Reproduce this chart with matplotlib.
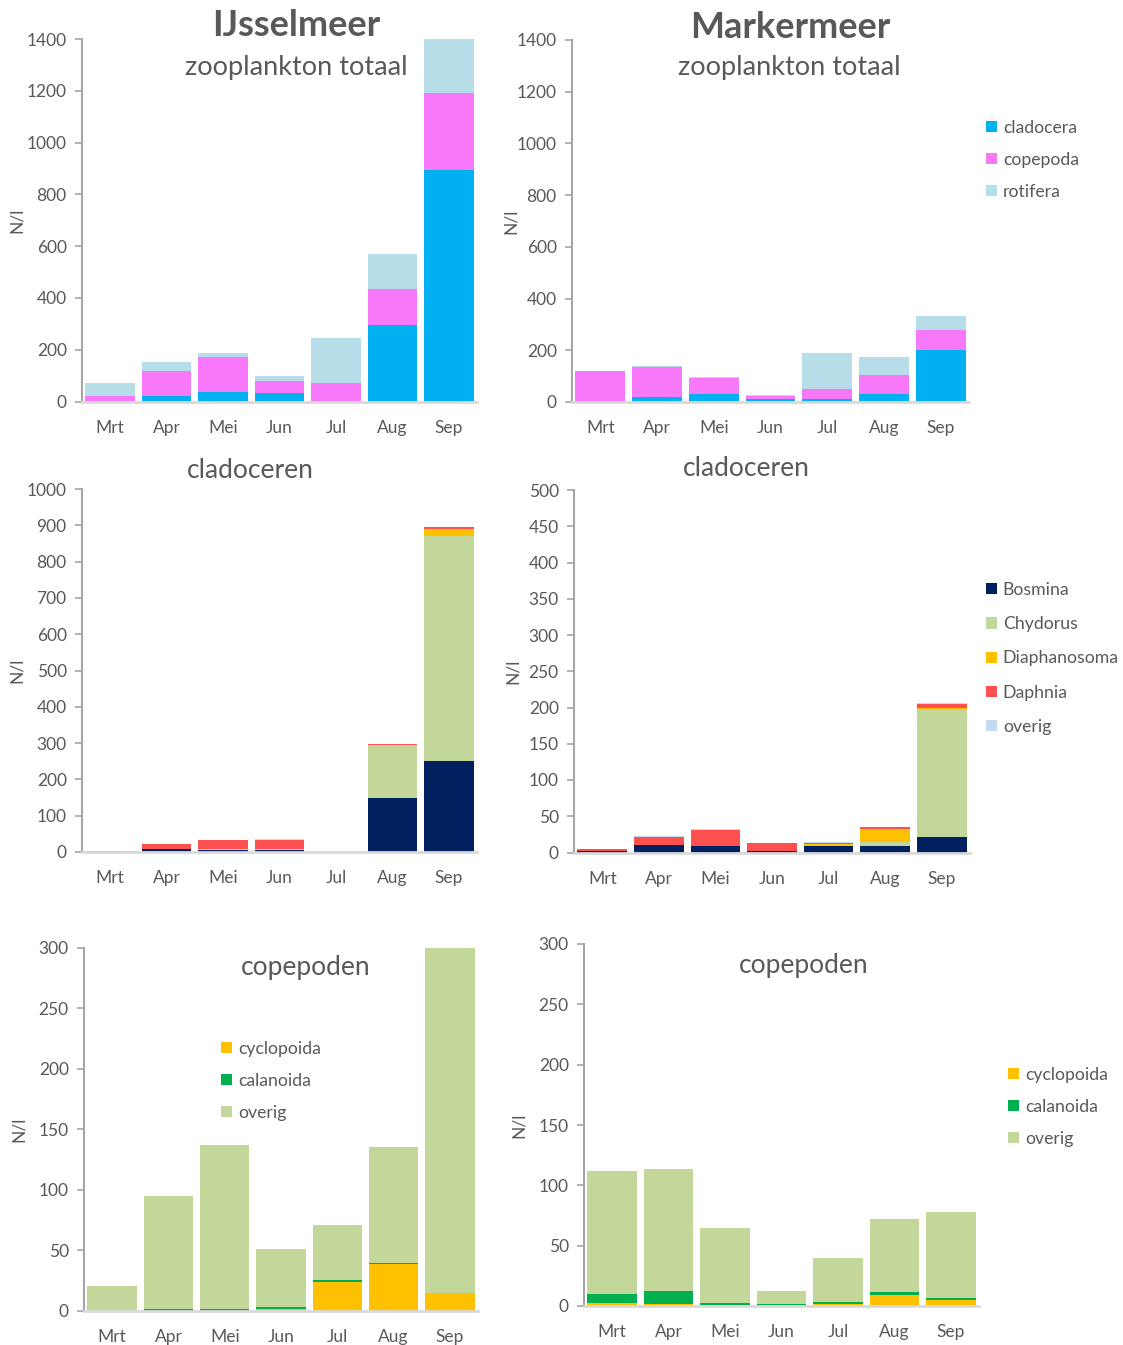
import numpy as np
import matplotlib
matplotlib.use("Agg")
import matplotlib.pyplot as plt
from matplotlib.patches import Patch

plt.rcParams['font.family'] = ['Lato', 'DejaVu Sans']

W, H = 1123, 1345
GREY = '#595959'

months = ['Mrt', 'Apr', 'Mei', 'Jun', 'Jul', 'Aug', 'Sep']

# zooplankton totaal (N/l)
ijs_cladocera = [0, 23, 35, 31, 0, 294, 893]
ijs_copepoda = [23, 93, 135, 50, 70, 139, 298]
ijs_rotifera = [50, 35, 16, 16, 177, 135, 209]
mrk_cladocera = [5, 19, 31, 12, 12, 31, 202]
mrk_copepoda = [113, 118, 63, 11, 38, 73, 78]
mrk_rotifera = [2, 3, 2, 4, 140, 70, 52]

# cladoceren
ijs_bosmina = [0, 9, 6, 6, 0, 148, 250]
ijs_chydorus = [0, 0, 2, 2, 0, 147, 621]
ijs_diaphanosoma = [0, 0, 0, 0, 0, 0, 18]
ijs_daphnia = [4, 14, 26, 26, 0, 3, 5]
ijs_clad_overig = [0, 0, 0, 2, 0, 0, 1]
mrk_bosmina = [1.5, 10, 8.5, 2, 9, 9, 21.6]
mrk_chydorus = [0, 0, 0, 0, 0, 5, 174.4]
mrk_diaphanosoma = [0, 0, 1, 0, 3, 18, 4]
mrk_daphnia = [3, 12, 21.5, 11, 1, 2.5, 4.2]
mrk_clad_overig = [1, 1, 1, 0, 1, 1, 1.4]

# copepoden
ijs_cyclopoida = [0, 0, 0, 1, 24, 38.5, 14.4]
ijs_calanoida = [0, 1.5, 1.5, 2, 1.5, 1.2, 0]
ijs_cop_overig = [20.5, 93, 135.5, 48, 45.5, 96, 285.6]
mrk_cyclopoida = [2.8, 2, 1, 0, 1.5, 9, 5]
mrk_calanoida = [7.4, 10.7, 1.8, 1.5, 1.5, 2.8, 1.6]
mrk_cop_overig = [102, 101, 61.7, 11, 36.5, 60, 71]

C_CLAD, C_COP, C_ROT = '#00B0F0', '#F779F9', '#B7DEE8'
C_BOS, C_CHY, C_DIA, C_DAP, C_OV = '#002060', '#C4D79B', '#FFC000', '#FF5050', '#C5D9F1'
C_CYC, C_CAL = '#FFC000', '#00B050'

fig = plt.figure(figsize=(W / 100, H / 100), dpi=100)


def px_axes(left, top, right, bottom):
    return fig.add_axes([left / W, 1 - bottom / H, (right - left) / W, (bottom - top) / H])


def stacked(ax, series, colors, ymax, step):
    x = np.arange(len(months))
    base = np.zeros(len(months))
    for vals, col in zip(series, colors):
        vals = np.asarray(vals, dtype=float)
        ax.bar(x, vals, 0.88, bottom=base, color=col, edgecolor='none', linewidth=0)
        base += vals
    ax.set_xlim(-0.5, len(months) - 0.5)
    ax.set_ylim(0, ymax)
    ax.set_yticks(np.arange(0, ymax + 1, step))
    ax.set_xticks(x)
    ax.set_xticklabels(months)
    for s in ('top', 'right'):
        ax.spines[s].set_visible(False)
    ax.spines['left'].set_color('#A6A6A6')
    ax.spines['left'].set_linewidth(1.5)
    ax.spines['bottom'].set_color('#D9D9D9')
    ax.spines['bottom'].set_linewidth(2)
    ax.tick_params(axis='y', colors='#A6A6A6', labelcolor=GREY, labelsize=12.5,
                   length=5, width=1.2, pad=6)
    ax.tick_params(axis='x', length=0, labelcolor=GREY, labelsize=12.5, pad=13)
    ax.set_ylabel('N/l', color=GREY, fontsize=12.5)
    ax.set_clip_on(False)


def legend(labels, colors, x, y, spacing):
    handles = [Patch(facecolor=c, edgecolor='none') for c in colors]
    fig.legend(handles, labels, loc='upper left', bbox_to_anchor=(x / W, 1 - y / H),
               frameon=False, fontsize=12.7, labelcolor=GREY, handlelength=0.6,
               handleheight=0.6, handletextpad=0.35, labelspacing=spacing,
               borderpad=0, borderaxespad=0)


def label(x, y, text, size, weight='normal'):
    fig.text(x / W, 1 - y / H, text, ha='center', va='center', fontsize=size,
             color=GREY, fontweight=weight)


# row 1: zooplankton totaal
ax1 = px_axes(82, 39, 477, 401.5)
stacked(ax1, [ijs_cladocera, ijs_copepoda, ijs_rotifera], [C_CLAD, C_COP, C_ROT], 1400, 200)
ax1.yaxis.set_label_coords(-0.145, 0.5)
ax2 = px_axes(572, 40, 969, 402)
stacked(ax2, [mrk_cladocera, mrk_copepoda, mrk_rotifera], [C_CLAD, C_COP, C_ROT], 1400, 200)
ax2.yaxis.set_label_coords(-0.135, 0.5)
label(296, 26, 'IJsselmeer', 26, 'bold')
label(790, 27, 'Markermeer', 26, 'bold')
label(296, 67, 'zooplankton totaal', 19.5)
label(789, 68, 'zooplankton totaal', 19.5)
legend(['cladocera', 'copepoda', 'rotifera'], [C_CLAD, C_COP, C_ROT], 986, 120, 0.9)

# row 2: cladoceren
ax3 = px_axes(82, 489, 477, 852)
stacked(ax3, [ijs_bosmina, ijs_chydorus, ijs_diaphanosoma, ijs_daphnia, ijs_clad_overig],
        [C_BOS, C_CHY, C_DIA, C_DAP, C_OV], 1000, 100)
ax3.yaxis.set_label_coords(-0.145, 0.5)
ax4 = px_axes(574, 490, 970, 852.5)
stacked(ax4, [mrk_bosmina, mrk_chydorus, mrk_diaphanosoma, mrk_daphnia, mrk_clad_overig],
        [C_BOS, C_CHY, C_DIA, C_DAP, C_OV], 500, 50)
ax4.yaxis.set_label_coords(-0.135, 0.5)
label(250, 470, 'cladoceren', 19)
label(746, 469, 'cladoceren', 19)
legend(['Bosmina', 'Chydorus', 'Diaphanosoma', 'Daphnia', 'overig'],
       [C_BOS, C_CHY, C_DIA, C_DAP, C_OV], 986, 582, 1.03)

# row 3: copepoden
ax5 = px_axes(84, 948, 478, 1310.5)
stacked(ax5, [ijs_cyclopoida, ijs_calanoida, ijs_cop_overig], [C_CYC, C_CAL, C_CHY], 300, 50)
ax5.yaxis.set_label_coords(-0.145, 0.5)
ax6 = px_axes(584, 944, 979, 1306)
stacked(ax6, [mrk_cyclopoida, mrk_calanoida, mrk_cop_overig], [C_CYC, C_CAL, C_CHY], 300, 50)
ax6.yaxis.set_label_coords(-0.145, 0.5)
label(306, 968, 'copepoden', 19)
label(804, 965, 'copepoden', 19)
legend(['cyclopoida', 'calanoida', 'overig'], [C_CYC, C_CAL, C_CHY], 221, 1041, 0.9)
legend(['cyclopoida', 'calanoida', 'overig'], [C_CYC, C_CAL, C_CHY], 1008, 1067, 0.9)

fig.savefig('out.png', dpi=100)
